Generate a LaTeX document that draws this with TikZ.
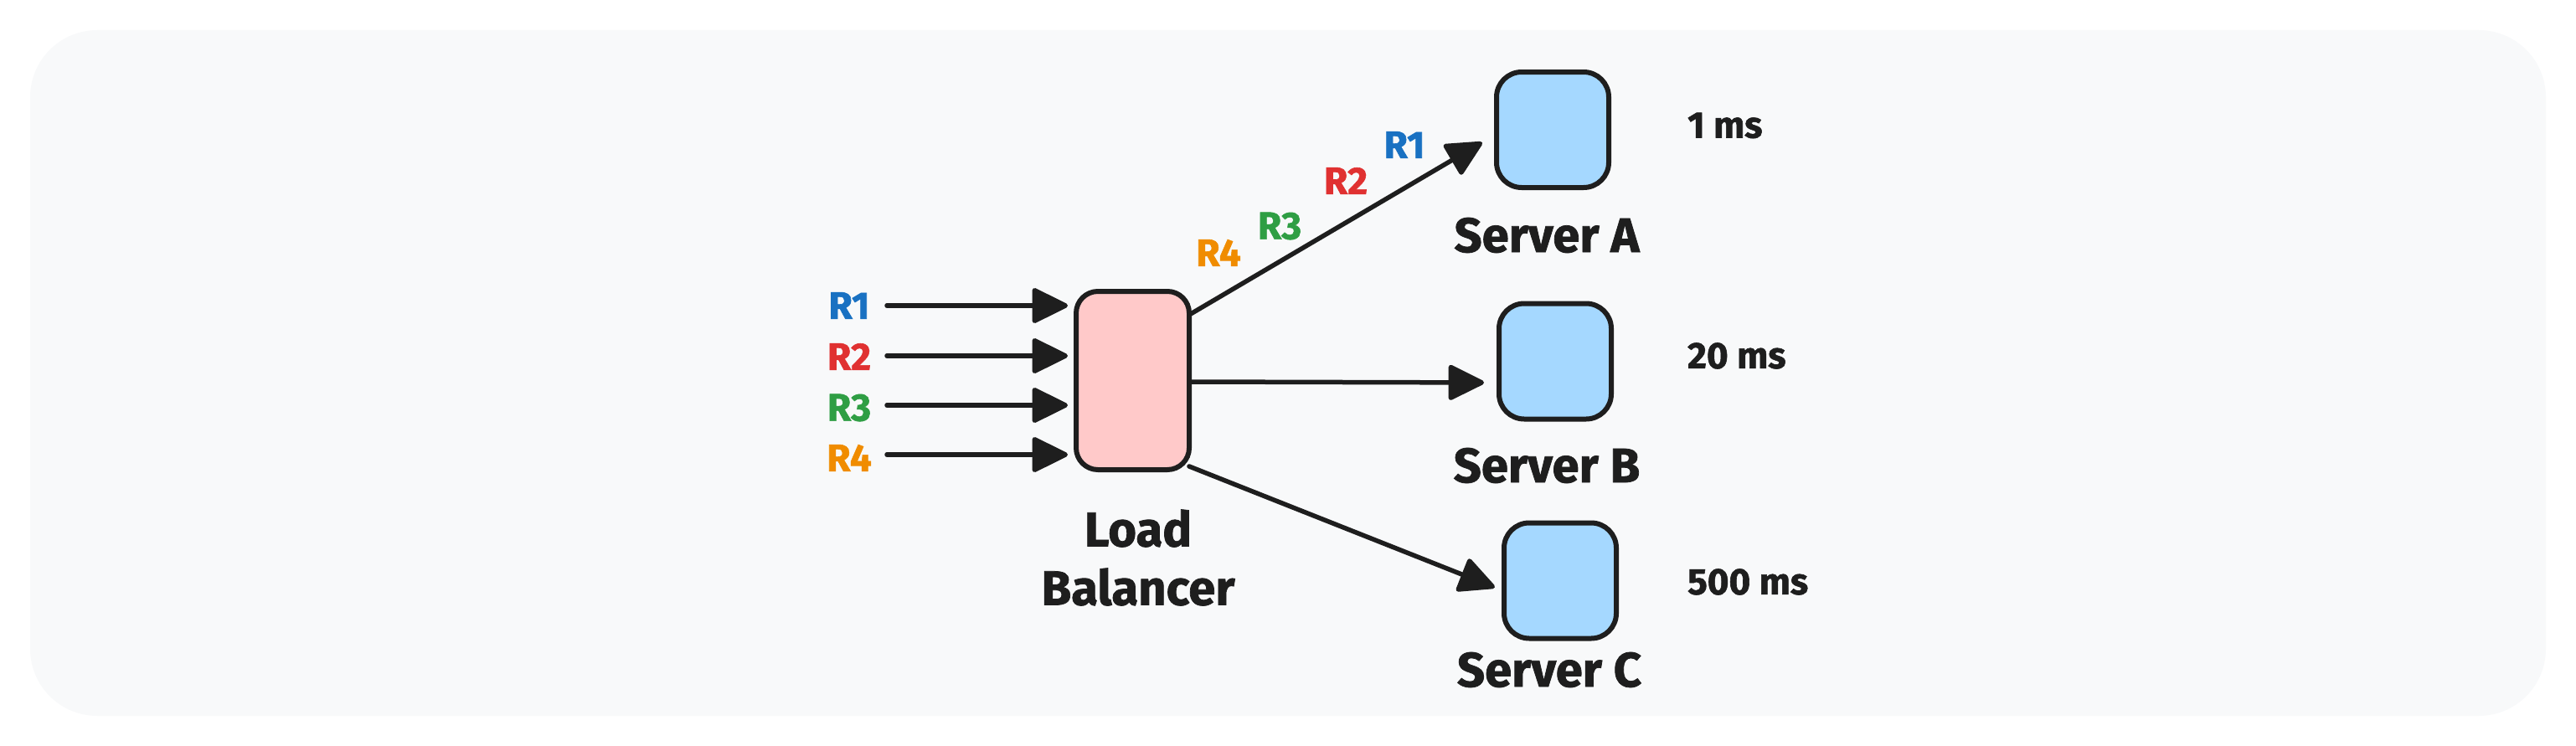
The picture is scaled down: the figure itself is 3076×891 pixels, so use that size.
\documentclass[tikz,border=0pt]{standalone}
\usepackage{fontspec}
\setmainfont{Fira Sans}[BoldFeatures={FakeBold=1.3}]
\usetikzlibrary{arrows.meta}
\definecolor{bgc}{HTML}{F8F9FA}
\definecolor{ink}{HTML}{1E1E1E}
\definecolor{lbfill}{HTML}{FFC9C9}
\definecolor{srvfill}{HTML}{A5D8FF}
\definecolor{cA}{HTML}{1971C2}
\definecolor{cB}{HTML}{E03131}
\definecolor{cC}{HTML}{2F9E44}
\definecolor{cD}{HTML}{F08C00}
\begin{document}
\begin{tikzpicture}[x=1pt,y=-1pt,
  box/.style={draw=ink, line width=6pt, outer sep=0pt, inner sep=0pt},
  lbbox/.style={box, fill=lbfill, rounded corners=26pt, minimum width=135pt, minimum height=213pt},
  srv/.style={box, fill=srvfill, rounded corners=30pt, minimum width=134pt, minimum height=138pt},
  arr/.style={draw=ink, line width=5.5pt, line cap=round, -{Triangle[length=46pt,width=44pt,round]}},
  rlab/.style={font=\fontsize{46}{46}\selectfont\bfseries, inner sep=0pt},
  big/.style={font=\fontsize{58}{70}\selectfont\bfseries, text=ink, inner sep=0pt, align=center},
  ms/.style={font=\fontsize{44}{44}\selectfont\bfseries, text=ink, inner sep=0pt, anchor=west}]
\useasboundingbox (0,0) rectangle (3076,891);
\fill[bgc, rounded corners=80pt] (36,36) rectangle (3040,855);

% nodes
\node[lbbox] (lb) at (1352.5,454.5) {};
\node[srv] (sA) at (1854,155) {};
\node[srv] (sB) at (1857,431.5) {};
\node[srv] (sC) at (1863,693.5) {};

\node[big] (lblb) at (1359,666) {Load\\Balancer};
\node[big] (lbA) at (1847,281) {Server A};
\node[big] (lbB) at (1847,556) {Server B};
\node[big] (lbC) at (1850,800) {Server C};

\node[ms] (msA) at (2015,150) {1 ms};
\node[ms] (msB) at (2015,425) {20 ms};
\node[ms] (msC) at (2015,695) {500 ms};

% incoming requests
\node[rlab, text=cA] (r1) at (1014,365) {R1};
\node[rlab, text=cB] (r2) at (1014,426) {R2};
\node[rlab, text=cC] (r3) at (1014,487) {R3};
\node[rlab, text=cD] (r4) at (1014,547) {R4};

\coordinate (i1) at (1059,365);
\coordinate (i2) at (1059,425);
\coordinate (i3) at (1059,484);
\coordinate (i4) at (1059,543);
\foreach \i in {1,2,3,4}
  \draw[arr, shorten >=10pt] (i\i) -- (i\i -| lb.west);

% queued labels on arrow to A
\node[rlab, text=cA] (q1) at (1677,173) {R1};
\node[rlab, text=cB] (q2) at (1607,216) {R2};
\node[rlab, text=cC] (q3) at (1528,270) {R3};
\node[rlab, text=cD] (q4) at (1455,302) {R4};

% outgoing
\draw[arr, shorten >=20pt] (lb.east |- 0,376) -- (sA.west |- 0,160);
\draw[arr, shorten >=18pt] (lb.east |- 0,456) -- (sB.west |- 0,457);
\draw[arr, shorten >=12pt] (lb.east |- 0,557) -- (sC.west |- 0,706);
\end{tikzpicture}
\end{document}
